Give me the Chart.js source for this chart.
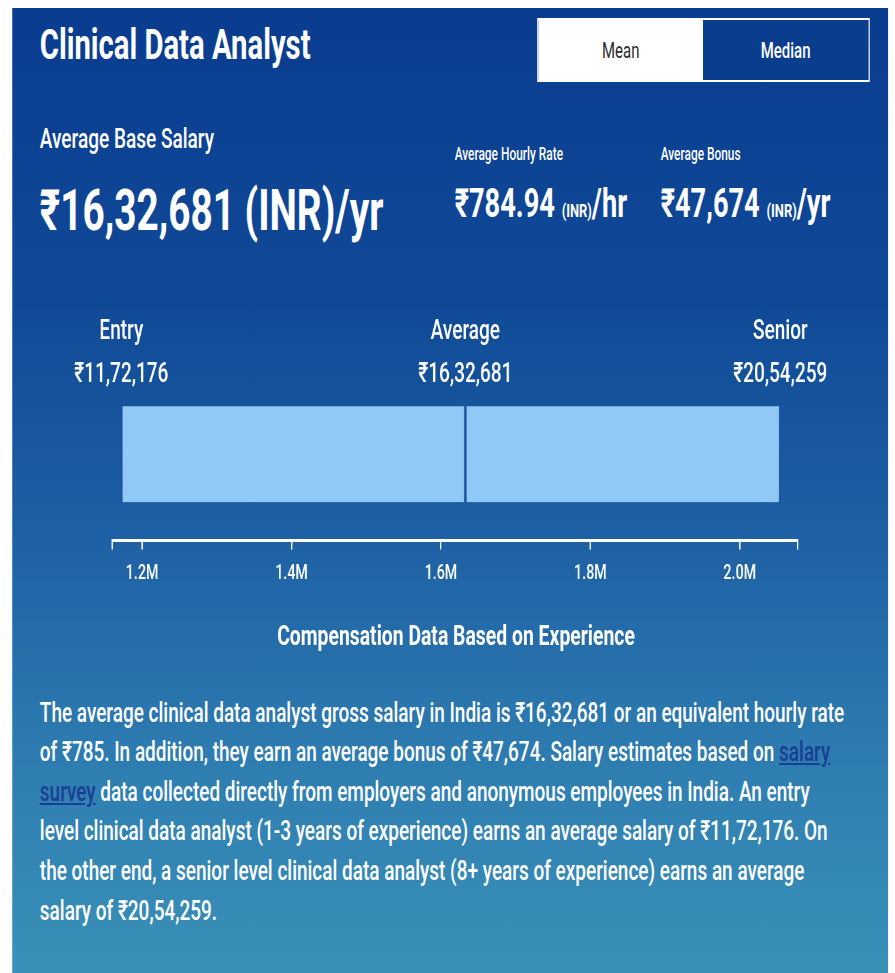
<!DOCTYPE html>
<html>
<head>
<meta charset="utf-8">
<script src="https://cdn.jsdelivr.net/npm/chart.js@4"></script>
<style>
  html, body { margin: 0; padding: 0; background: #fff; overflow: hidden; }
  body { width: 895px; height: 973px; position: relative; font-family: Roboto, "Noto Sans", sans-serif; }
  /* the reference is a horizontally squeezed page, so the whole card is squeezed too */
  #squeeze { position: absolute; left: 0; top: 0; width: 1316px; height: 973px; transform: scaleX(0.68); transform-origin: 0 0; }
  #card { position: absolute; left: 17.6px; top: 8px; width: 1288px; height: 990px;
          background: linear-gradient(180deg, #0a3c90 0%, #104a97 30%, #1f62a5 55%, #2f7fb2 78%, #3b93b8 100%); color: #fff; }
  .abs { position: absolute; white-space: nowrap; }
  #title { left: 41px; top: 14px; font-size: 43px; line-height: 44px; font-weight: 700; }
  #toggle { position: absolute; left: 772px; top: 10px; width: 485px; height: 60px; border: 2px solid #fff; display: flex; }
  #toggle div { flex: 1; display: flex; align-items: center; justify-content: center; font-size: 22px; }
  #btnMean { background: #fff; color: #2a2a2a; font-weight: 400; }
  #btnMedian { background: #0b3d8f; color: #fff; font-weight: 500; }
  #baseLbl { left: 41px; top: 117px; font-size: 28px; line-height: 28px; font-weight: 500; }
  #baseVal { left: 41px; top: 172px; font-size: 57px; line-height: 62px; font-weight: 700; }
  .small { font-size: 17.5px; line-height: 18px; font-weight: 500; top: 137px; }
  .mid { font-size: 40px; line-height: 40px; font-weight: 700; top: 176px; }
  .mid small { font-size: 19px; font-weight: 700; }
  #hourLbl, #hourVal { left: 651px; }
  #bonusLbl, #bonusVal { left: 954px; }
  #chartBox { position: absolute; left: 37px; top: 292px; width: 1227.5px; height: 300px; }
  #compTitle { left: 9px; width: 1288px; text-align: center; top: 613px; font-size: 28.5px; line-height: 30px; font-weight: 700; }
  #para { left: 41px; top: 684.6px; font-size: 27.9px; line-height: 39.6px; font-weight: 500; white-space: nowrap; }
  #para a { color: #1a3f92; text-decoration: underline; }
</style>
</head>
<body>
<div id="squeeze">
  <div id="card">
    <div id="title" class="abs">Clinical Data Analyst</div>
    <div id="toggle"><div id="btnMean">Mean</div><div id="btnMedian">Median</div></div>

    <div id="baseLbl" class="abs">Average Base Salary</div>
    <div id="baseVal" class="abs">₹16,32,681 (INR)/yr</div>

    <div id="hourLbl" class="abs small">Average Hourly Rate</div>
    <div id="hourVal" class="abs mid">₹784.94 <small>(INR)</small>/hr</div>
    <div id="bonusLbl" class="abs small">Average Bonus</div>
    <div id="bonusVal" class="abs mid">₹47,674 <small>(INR)</small>/yr</div>

    <div id="chartBox"><canvas id="salaryChart"></canvas></div>

    <div id="compTitle" class="abs">Compensation Data Based on Experience</div>

    <div id="para" class="abs">The average clinical data analyst gross salary in India is ₹16,32,681 or an equivalent hourly rate<br>of ₹785. In addition, they earn an average bonus of ₹47,674. Salary estimates based on <a href="#">salary<br>survey</a> data collected directly from employers and anonymous employees in India. An entry<br>level clinical data analyst (1-3 years of experience) earns an average salary of ₹11,72,176. On<br>the other end, a senior level clinical data analyst (8+ years of experience) earns an average<br>salary of ₹20,54,259.</div>
  </div>
</div>

<script>
// datos del grafico
const levels = ['Entry', 'Average', 'Senior'];
const salaries = [1172176, 1632681, 2054259];
const tickValues = [1200000, 1400000, 1600000, 1800000, 2000000];
const axisMin = 1160000;
const axisMax = 2077000;

// formato indio: 16,32,681
function formatINR(n) {
    const s = String(Math.round(n));
    if (s.length <= 3) return '₹' + s;
    const last3 = s.slice(-3);
    const rest = s.slice(0, -3).replace(/\B(?=(\d{2})+(?!\d))/g, ',');
    return '₹' + rest + ',' + last3;
}

// etiquetas Entry / Average / Senior encima de la barra
const levelLabels = {
    id: 'levelLabels',
    afterDatasetsDraw(chart) {
        const ctx = chart.ctx;
        const x = chart.scales.x;
        const bar = chart.getDatasetMeta(0).data[0];
        const top = bar.y - bar.height / 2;
        ctx.save();
        ctx.fillStyle = '#ffffff';
        ctx.textAlign = 'center';
        ctx.textBaseline = 'middle';
        ctx.font = '500 28px Roboto, "Noto Sans", sans-serif';
        levels.forEach((name, i) => {
            const px = x.getPixelForValue(salaries[i]);
            ctx.fillText(name, px, top - 74);
            ctx.fillText(formatINR(salaries[i]), px, top - 31);
        });
        ctx.restore();
    }
};

const barBorder = { left: 2.2, right: 2.2, top: 0, bottom: 0 };

new Chart(document.getElementById('salaryChart'), {
    type: 'bar',
    data: {
        labels: ['Salary'],
        datasets: [{
            data: [[salaries[0], salaries[1]]],
            backgroundColor: '#90c8f6',
            borderColor: '#1c4e9f',
            borderWidth: barBorder,
            borderSkipped: false,
            grouped: false,
            barThickness: 96
        }, {
            data: [[salaries[1], salaries[2]]],
            backgroundColor: '#90c8f6',
            borderColor: '#1c4e9f',
            borderWidth: barBorder,
            borderSkipped: false,
            grouped: false,
            barThickness: 96
        }]
    },
    options: {
        indexAxis: 'y',
        responsive: true,
        maintainAspectRatio: false,
        animation: false,
        layout: { padding: { left: 110, right: 110, top: 68, bottom: 2.6 } },
        plugins: { legend: { display: false }, tooltip: { enabled: false } },
        scales: {
            y: { display: false },
            x: {
                type: 'linear',
                min: axisMin,
                max: axisMax,
                afterBuildTicks: (scale) => {
                    scale.ticks = [axisMin, ...tickValues, axisMax].map(v => ({ value: v }));
                },
                border: { display: true, color: '#ffffff', width: 3 },
                grid: { drawOnChartArea: false, drawTicks: true, tickLength: 9, color: '#ffffff', lineWidth: 2 },
                ticks: {
                    color: '#ffffff',
                    padding: 11.4,
                    maxRotation: 0,
                    autoSkip: false,
                    font: { family: 'Roboto', size: 21, weight: '500' },
                    callback: (v) => tickValues.includes(v) ? (v / 1000000).toFixed(1) + 'M' : ''
                }
            }
        }
    },
    plugins: [levelLabels]
});
</script>
</body>
</html>
